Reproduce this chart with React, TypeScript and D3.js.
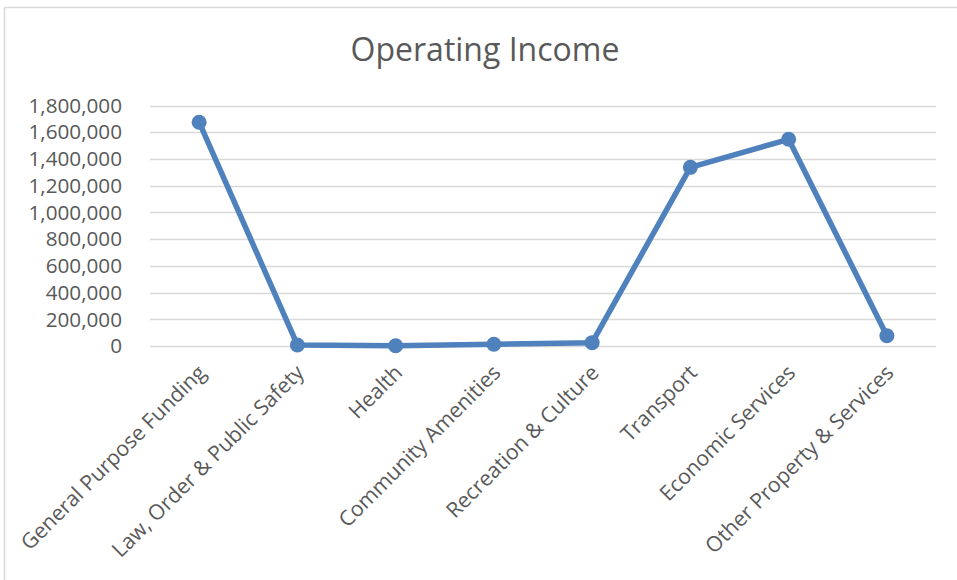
import * as d3 from "d3";

const title = "Operating Income";

const categories = [
  "General Purpose Funding",
  "Law, Order & Public Safety",
  "Health",
  "Community Amenities",
  "Recreation & Culture",
  "Transport",
  "Economic Services",
  "Other Property & Services",
];

const income = [1675000, 8000, 2000, 13000, 25000, 1337000, 1547000, 77000];

const yTicks = [0, 200000, 400000, 600000, 800000, 1000000, 1200000, 1400000, 1600000, 1800000];

const W = 957;
const H = 580;
const font = "'Open Sans', 'Noto Sans', sans-serif";
const textColor = "#595959";
const lineColor = "#4F81BD";

export default function App() {
  const x = d3.scaleBand<string>().domain(categories).range([150, 936]);
  const y = d3.scaleLinear().domain([0, 1800000]).range([346, 105.5]);
  const fmt = d3.format(",");

  const cx = (c: string) => (x(c) ?? 0) + x.bandwidth() / 2;

  const line = d3
    .line<number>()
    .x((_, i) => cx(categories[i]))
    .y((d) => y(d));

  return (
    <svg
      width={W}
      height={H}
      style={{ position: "absolute", left: 0, top: 0, background: "#fff" }}
    >
      {/* chart frame (only top and left edges show) */}
      <line x1={4.5} y1={7.5} x2={W} y2={7.5} stroke="#d9d9d9" strokeWidth={1.5} />
      <line x1={4.5} y1={7.5} x2={4.5} y2={H} stroke="#d9d9d9" strokeWidth={1.5} />

      <text
        x={485}
        y={61}
        textAnchor="middle"
        fontFamily={font}
        fontSize={32}
        fill={textColor}
      >
        {title}
      </text>

      {yTicks.map((t) => (
        <g key={t}>
          <line
            x1={150}
            x2={936}
            y1={Math.round(y(t)) + 0.5}
            y2={Math.round(y(t)) + 0.5}
            stroke="#d9d9d9"
            strokeWidth={1.5}
          />
          <text
            x={122}
            y={y(t)}
            dy="0.35em"
            textAnchor="end"
            fontFamily={font}
            fontSize={20.7}
            fill={textColor}
          >
            {fmt(t)}
          </text>
        </g>
      ))}

      {categories.map((c) => (
        <text
          key={c}
          transform={`translate(${cx(c) + 8},${374}) rotate(-45)`}
          textAnchor="end"
          fontFamily={font}
          fontSize={21.2}
          fill={textColor}
        >
          {c}
        </text>
      ))}

      <path
        d={line(income) ?? ""}
        fill="none"
        stroke={lineColor}
        strokeWidth={5.5}
        strokeLinejoin="round"
        strokeLinecap="round"
      />
      {income.map((v, i) => (
        <circle key={categories[i]} cx={cx(categories[i])} cy={y(v)} r={7.5} fill={lineColor} />
      ))}
    </svg>
  );
}
